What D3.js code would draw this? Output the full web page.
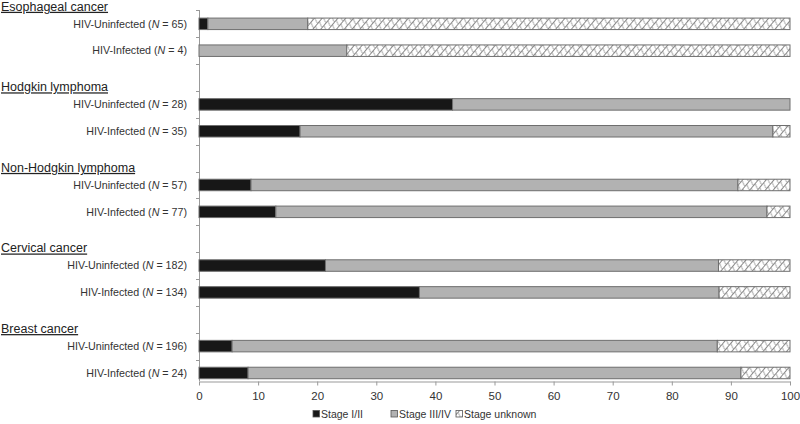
<!DOCTYPE html>
<html>
<head>
<meta charset="utf-8">
<script src="https://cdn.jsdelivr.net/npm/d3@7"></script>
<style>
  body { margin: 0; background: #fff; }
  svg { font-family: "Liberation Sans", Arial, sans-serif; }
</style>
</head>
<body>
<div id="chart"></div>
<script>
// cancer groups, top to bottom
const cancers = ["Esophageal cancer", "Hodgkin lymphoma", "Non-Hodgkin lymphoma", "Cervical cancer", "Breast cancer"];
// per group: [uninfected N, infected N]
const counts = [[65, 4], [28, 35], [57, 77], [182, 134], [196, 24]];
// percentages per row (uninfected, infected for each cancer)
const stageEarly   = [1.5, 0, 42.9, 17.1, 8.8, 13.0, 21.4, 37.3, 5.6, 8.3];
const stageLate    = [16.9, 25.0, 57.1, 80.0, 82.4, 83.1, 66.5, 50.7, 82.1, 83.4];
const stageUnknown = [81.6, 75.0, 0, 2.9, 8.8, 3.9, 12.1, 12.0, 12.3, 8.3];
const stageNames = ["Stage I/II", "Stage III/IV", "Stage unknown"];
const xTicks = [0, 10, 20, 30, 40, 50, 60, 70, 80, 90, 100];

const W = 800, H = 424;
const svg = d3.select("#chart").append("svg")
    .attr("width", W).attr("height", H);

const defs = svg.append("defs");
defs.append("pattern")
    .attr("id", "hatch")
    .attr("width", 6).attr("height", 6)
    .attr("patternUnits", "userSpaceOnUse")
    .attr("patternTransform", "rotate(40)")
  .call(p => {
    p.append("rect").attr("width", 6).attr("height", 6).attr("fill", "#fff");
    p.append("line").attr("x1", 0).attr("y1", 0).attr("x2", 0).attr("y2", 6)
        .attr("stroke", "#3a3a3a").attr("stroke-width", 1.2);
    // faint back stroke gives the zigzag look
    p.append("line").attr("x1", 0).attr("y1", 3).attr("x2", 6).attr("y2", 6)
        .attr("stroke", "#8a8a8a").attr("stroke-width", 0.8);
  });

const fills = ["#171717", "#b2b2b2", "url(#hatch)"];

// slots: uninfected, infected, gap ... (last group has no gap)
const slots = [];
const rows = [];
cancers.forEach((c, i) => {
  slots.push(c + "|U"); rows.push({key: c + "|U", label: "HIV-Uninfected", n: counts[i][0], cancer: c});
  slots.push(c + "|I"); rows.push({key: c + "|I", label: "HIV-Infected", n: counts[i][1], cancer: c});
  if (i < cancers.length - 1) slots.push(c + "|gap");
});
rows.forEach((r, i) => { r.vals = [stageEarly[i], stageLate[i], stageUnknown[i]]; });

const x = d3.scaleLinear().domain([0, 100]).range([199, 790]);
const y = d3.scaleBand().domain(slots).range([10.4, 386.4]);
const barH = 11.5;
const axisY = 381;

// y axis line and category ticks
svg.append("line").attr("x1", 199.5).attr("x2", 199.5).attr("y1", 10).attr("y2", axisY)
    .attr("stroke", "#999").attr("stroke-width", 1);
svg.append("g").selectAll("line")
  .data(slots)
  .join("line")
    .attr("x1", 196).attr("x2", 199.5)
    .attr("y1", d => Math.round(y(d)) + 0.5).attr("y2", d => Math.round(y(d)) + 0.5)
    .attr("stroke", "#999");

// x axis
const xAxis = svg.append("g")
    .attr("transform", `translate(0,${axisY + 0.5})`)
    .call(d3.axisBottom(x).tickValues(xTicks).tickSize(4).tickPadding(6).tickSizeOuter(0));
xAxis.select(".domain").attr("stroke", "#999");
xAxis.selectAll(".tick line").attr("stroke", "#999");
xAxis.selectAll(".tick text").attr("font-size", 11.5).attr("fill", "#333")
    .attr("font-family", "Liberation Sans, Arial, sans-serif");

// stacked bars
const stack = d3.stack().keys([0, 1, 2]).value((d, k) => d.vals[k]);
const series = stack(rows);
svg.append("g").selectAll("g")
  .data(series)
  .join("g")
    .attr("fill", d => fills[d.key])
  .selectAll("rect")
  .data(d => d.filter(s => s[1] - s[0] > 0))
  .join("rect")
    .attr("x", d => x(d[0]))
    .attr("y", d => y(d.data.key) + y.bandwidth() / 2 - barH / 2)
    .attr("width", d => x(d[1]) - x(d[0]))
    .attr("height", barH)
    .attr("stroke", "#6e6e6e")
    .attr("stroke-width", 1);

// row labels
const lab = svg.append("g").selectAll("text")
  .data(rows)
  .join("text")
    .attr("x", 187)
    .attr("y", d => y(d.key) + y.bandwidth() / 2)
    .attr("dy", "0.35em")
    .attr("text-anchor", "end")
    .attr("font-size", 10.7)
    .attr("fill", "#333");
lab.append("tspan").text(d => d.label + " (");
lab.append("tspan").attr("font-style", "italic").text("N");
lab.append("tspan").text(d => " = " + d.n + ")");

// group headers
svg.append("g").selectAll("text")
  .data(cancers)
  .join("text")
    .attr("x", 1)
    .attr("y", d => y(d + "|U") - 4)
    .attr("dy", "0.35em")
    .attr("font-size", 12.5)
    .attr("fill", "#222")
    .attr("text-decoration", "underline")
    .text(d => d);

// legend
const legX = [313, 391, 456];
const leg = svg.append("g").selectAll("g")
  .data(stageNames)
  .join("g")
    .attr("transform", (d, i) => `translate(${legX[i]},414)`);
leg.append("rect")
    .attr("x", 0).attr("y", -3.5).attr("width", 6.5).attr("height", 6.5)
    .attr("fill", (d, i) => fills[i])
    .attr("stroke", "#555").attr("stroke-width", 0.8);
leg.append("text")
    .attr("x", 8).attr("dy", "0.35em")
    .attr("font-size", 10.5).attr("fill", "#333")
    .text(d => d);
</script>
</body>
</html>
